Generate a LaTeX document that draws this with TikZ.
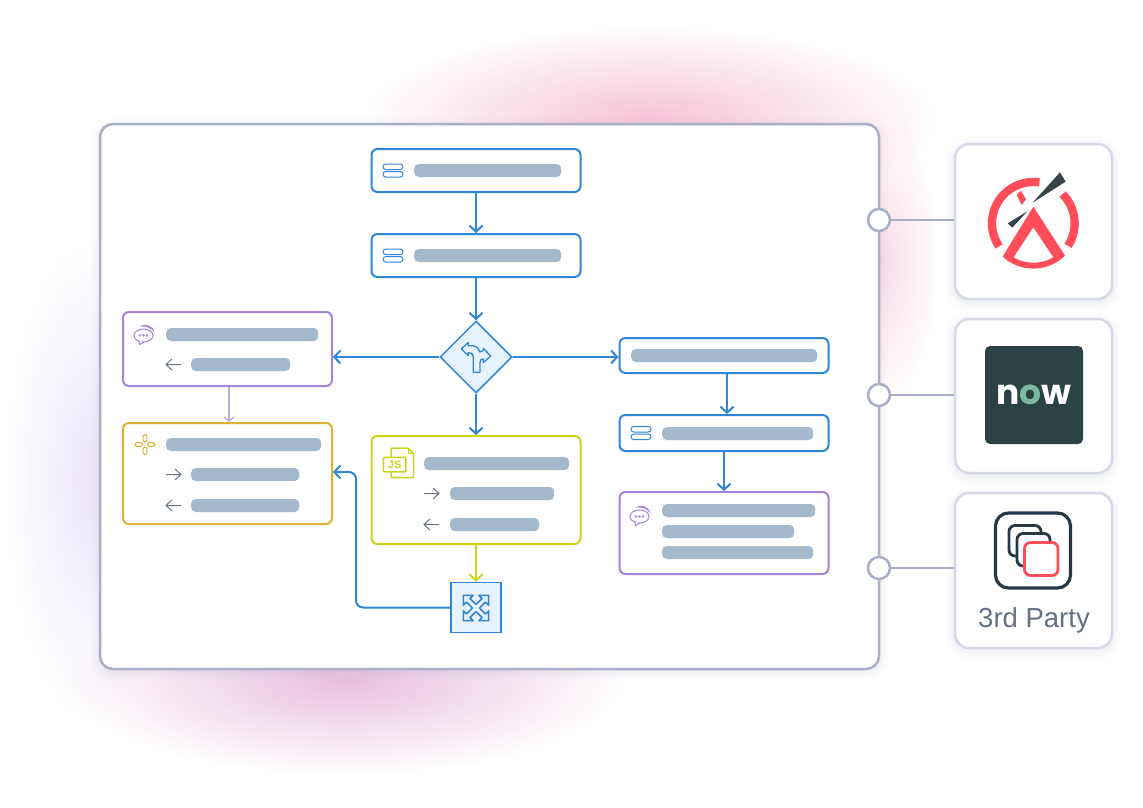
\documentclass[tikz,border=0pt]{standalone}
\usepackage{fontspec}
\setmainfont{Liberation Sans}
\newfontfamily\nowfont{Poppins}
\usetikzlibrary{shapes.geometric,arrows.meta,fadings}
\definecolor{flowblue}{HTML}{2F86D6}
\definecolor{iceblue}{HTML}{E6F2FD}
\definecolor{chatpurple}{HTML}{A583D8}
\definecolor{palepurple}{HTML}{C2A8E4}
\definecolor{ruleyellow}{HTML}{DDB134}
\definecolor{jslime}{HTML}{CBD515}
\definecolor{barblue}{HTML}{A5B9CD}
\definecolor{arrowgray}{HTML}{6B7688}
\definecolor{panelrim}{HTML}{A9AFC6}
\definecolor{cardrim}{HTML}{D5D9E5}
\definecolor{logored}{HTML}{FF4D5A}
\definecolor{logodark}{HTML}{37434A}
\definecolor{nowdark}{HTML}{2B4245}
\definecolor{nowgreen}{HTML}{7DB8A0}
\definecolor{stackdark}{HTML}{263746}
\definecolor{partygray}{HTML}{667085}
\definecolor{blobpink}{HTML}{F09ABB}
\definecolor{blobmauve}{HTML}{DE9CCB}
\definecolor{bloblilac}{HTML}{CDBDEE}
\tikzfading[name=softblob, inner color=transparent!0, outer color=transparent!100]
\tikzstyle{softcard} = [preaction={draw=panelrim, draw opacity=.04, line width=18pt, transform canvas={yshift=-3pt}},
    preaction={draw=panelrim, draw opacity=.05, line width=11pt, transform canvas={yshift=-3pt}},
    preaction={draw=panelrim, draw opacity=.07, line width=6pt, transform canvas={yshift=-2pt}}]
\tikzstyle{panel} = [rectangle, draw=panelrim, line width=2.5pt, fill=white, rounded corners=13pt, softcard]
\tikzstyle{card} = [rectangle, draw=cardrim, line width=2.5pt, fill=white, rounded corners=14pt, minimum width=157pt, softcard]
\tikzstyle{port} = [circle, draw=panelrim, line width=2.5pt, fill=white, minimum size=22pt, inner sep=0pt]
\tikzstyle{box} = [rectangle, line width=2pt, fill=white, rounded corners=6pt, minimum width=209pt, inner sep=0pt]
\tikzstyle{bar} = [rectangle, fill=barblue, rounded corners=4.5pt, minimum height=13pt, inner sep=0pt, anchor=west]
\tikzstyle{line} = [draw=flowblue, line width=2pt, -{Straight Barb[length=6pt,width=13pt]}]
\tikzstyle{link} = [draw=panelrim, line width=2.5pt]
\tikzstyle{glyph} = [draw=arrowgray, line width=1pt]
% bar of a box: x, y of its middle, width, name
\newcommand{\txtbar}[4]{\node [bar, minimum width=#3pt] (#4) at (#1,#2) {};}
\newcommand{\dbicon}[2]{\begin{scope}[shift={(#1,#2)}, draw=flowblue, line width=1pt]
    \draw [rounded corners=2.7pt] (-10,-6.5) rectangle (10,-1);
    \draw [rounded corners=2.7pt] (-10,1) rectangle (10,6.5);
  \end{scope}}
\newcommand{\chaticon}[2]{\begin{scope}[shift={(#1,#2)}, draw=chatpurple, line width=1pt]
    \fill [chatpurple] (-5,-7.5) .. controls (2,-11) and (9,-9) .. (10.5,-1) .. controls (8,-6) and (3,-8) .. (-5,-7.5);
    \draw [fill=white] (-.5,1.5) ellipse (9.5 and 6.5);
    \draw [fill=white] (-5,7) -- (-4.5,10.5) -- (0,8);
    \foreach \dx in {-4,-.5,3} \fill [chatpurple] (\dx,1.5) circle (1.4);
  \end{scope}}
\newcommand{\outglyph}[2]{\draw [glyph] (#1,#2) -- ++(15,0) ++(-6,-5.5) -- ++(6,5.5) -- ++(-6,5.5);}
\newcommand{\inglyph}[2]{\draw [glyph] (#1+15,#2) -- ++(-15,0) ++(6,-5.5) -- ++(-6,5.5) -- ++(6,5.5);}

\begin{document}
\begin{tikzpicture}[x=1pt, y=-1pt]
  \useasboundingbox (0,0) rectangle (1143,808);
  % Blurred backdrop
  \fill [blobpink, path fading=softblob, opacity=.6] (650,120) ellipse (290 and 95);
  \fill [blobpink, path fading=softblob, opacity=.35] (880,260) ellipse (60 and 150);
  \fill [bloblilac, path fading=softblob, opacity=.38] (90,480) ellipse (85 and 240);
  \fill [blobmauve, path fading=softblob, opacity=.65] (345,680) ellipse (280 and 95);

  % Place nodes
  \node [panel, minimum width=779pt, minimum height=545pt] (frame) at (489.5,396.5) {};
  \node [card, minimum height=155pt] (card1) at (1033.5,221.5) {};
  \node [card, minimum height=154pt] (card2) at (1033.5,396) {};
  \node [card, minimum height=155pt] (card3) at (1033.5,570.5) {};
  \node [port] (port1) at (879,220) {};
  \node [port] (port2) at (879,395) {};
  \node [port] (port3) at (879,568) {};

  \node [box, draw=flowblue, minimum height=43pt] (start) at (476,170.5) {};
  \node [box, draw=flowblue, minimum height=43pt, below of=start, node distance=85pt] (query) {};
  \node [diamond, draw=flowblue, line width=1.5pt, fill=iceblue, minimum size=72pt, inner sep=0pt, below of=query, node distance=101.5pt] (split) {};
  \node [box, draw=jslime, minimum height=108pt] (script) at (476,490) {};
  \node [rectangle, draw=flowblue, line width=1.5pt, fill=iceblue, minimum size=50pt, inner sep=0pt] (merge) at (476,607.5) {};
  \node [box, draw=chatpurple, minimum height=74pt] (ask) at (227.5,349) {};
  \node [box, draw=ruleyellow, minimum height=101pt] (rule) at (227.5,473.5) {};
  \node [box, draw=flowblue, minimum height=35pt] (task) at (724,355.5) {};
  \node [box, draw=flowblue, minimum height=36pt] (lookup) at (724,433) {};
  \node [box, draw=chatpurple, minimum height=82pt] (reply) at (724,533) {};

  % Bars
  \txtbar{414}{170.5}{147}{startbar}
  \txtbar{414}{255.5}{147}{querybar}
  \txtbar{166}{334.5}{152}{askbar}
  \txtbar{191}{364.5}{99}{askbarb}
  \txtbar{166}{444.5}{155}{rulebar}
  \txtbar{191}{474.5}{108}{rulebarb}
  \txtbar{191}{505.5}{108}{rulebarc}
  \txtbar{424}{463.5}{145}{scriptbar}
  \txtbar{450}{493.5}{104}{scriptbarb}
  \txtbar{450}{524.5}{89}{scriptbarc}
  \txtbar{631}{355.5}{186}{taskbar}
  \txtbar{662}{433.5}{151}{lookupbar}
  \txtbar{662}{510.5}{153}{replybar}
  \txtbar{662}{531.5}{132}{replybarb}
  \txtbar{662}{552.5}{151}{replybarc}

  % Small icons
  \dbicon{393}{170.5}
  \dbicon{393}{255.5}
  \dbicon{641}{433}
  \chaticon{144}{334}
  \chaticon{640}{515}
  \inglyph{166}{364.5}
  \outglyph{166}{474.5}
  \inglyph{166}{505.5}
  \outglyph{424}{493.5}
  \inglyph{424}{524.5}
  \begin{scope}[shift={(145,444.5)}, draw=ruleyellow, line width=1pt]
    \draw [rounded corners=1.5pt] (-1.8,-10) rectangle (1.8,-2.5);
    \draw [rounded corners=1.5pt] (-1.8,2.5) rectangle (1.8,10);
    \draw [rounded corners=1.5pt] (-10,-1.8) rectangle (-2.5,1.8);
    \draw [rounded corners=1.5pt] (2.5,-1.8) rectangle (10,1.8);
  \end{scope}
  \draw [jslime, line width=1.5pt, fill=white, rounded corners=1pt] (391,448) -- (408,448) -- (413.5,453.5) -- (413.5,477.5) -- (391,477.5) -- cycle;
  \draw [jslime, line width=1pt] (408,448) -- (408,453.5) -- (413.5,453.5);
  \node [rectangle, draw=jslime, line width=1.5pt, fill=white, rounded corners=1pt, minimum width=22.5pt, minimum height=14.5pt, inner sep=0pt, text=jslime, font=\bfseries\fontsize{11}{11}\selectfont] (jsmark) at (394.7,464.5) {JS};
  % turn sign in the split
  \begin{scope}[shift={(360,140)}, x=.3333pt, y=-.3333pt]
    \draw [flowblue, line width=1.3pt, line join=round] (304,627) -- (325,607) -- (325,617) .. controls (345,615) and (356,622) .. (359,636) -- (370,632) -- (370,625) -- (392,648) -- (370,668) -- (370,657) .. controls (364,656) and (360,660) .. (360,668) -- (360,697) -- (340,697) -- (340,650) .. controls (340,642) and (334,637) .. (325,638) -- (325,647) -- cycle;
  \end{scope}
  % arrows of the merge
  \foreach \turn in {45,135,225,315}
    \draw [flowblue, line width=1.5pt, line join=round, shift={(476,608)}, rotate=\turn] (-2.5,-2.5) -- (-2.5,-11) -- (-7,-11) -- (0,-18) -- (7,-11) -- (2.5,-11) -- (2.5,-2.5);

  % Draw edges
  \path [line] (start) -- (query);
  \path [line] (query) -- (split);
  \path [line] (split) -- (script);
  \path [line] (split) -- (split -| ask.east);
  \path [line] (split) -- (split -| task.west);
  \path [line, draw=jslime] (script) -- (merge);
  \path [line, draw=palepurple, line width=1.5pt, -{Straight Barb[length=4pt,width=10pt]}] ([xshift=1.5pt]ask.south) -- ([xshift=1.5pt]rule.north);
  \path [line] ([xshift=3pt]task.south) -- ([xshift=3pt]lookup.north);
  \path [line] (lookup) -- (reply);
  \path [line, rounded corners=7pt] (merge) -| (356,472) -- (rule.east |- 356,472);
  \path [link] (port1) -- (port1 -| card1.west);
  \path [link] (port2) -- (port2 -| card2.west);
  \path [link] (port3) -- (port3 -| card3.west);

  % first logo
  \begin{scope}[shift={(950,140)}, x=.3333pt, y=-.3333pt]
    \draw [logored, line width=8.3pt] (250,250) ++(-81.5:124) arc (-81.5:-214:124);
    \draw [logored, line width=8.3pt] (250,250) ++(-45:124) arc (-45:33:124);
    \fill [logored, even odd rule] (250,200) -- (345,347) arc (45.6:132.6:136) -- cycle
      (250,262) -- (310,352) arc (59.5:120.5:118) -- cycle;
    \fill [logored] (213,152) -- (228,178) -- (215,195) -- (200,165) -- cycle;
    \fill [logodark] (330,97) -- (347,125) -- (248,188) -- cycle;
    \fill [logodark] (232,214) -- (187,263) -- (173,250) -- cycle;
  \end{scope}
  % second logo
  \node [rectangle, fill=nowdark, rounded corners=5pt, minimum size=98pt, inner sep=0pt, text=white, font=\nowfont\bfseries\fontsize{34.5}{34.5}\selectfont] (nowmark) at (1034,395) {n{\color{nowgreen}o}w};
  % third logo
  \node [rectangle, draw=stackdark, line width=3.2pt, rounded corners=13pt, minimum size=75pt, inner sep=0pt] (stack) at (1033,550.5) {};
  \draw [stackdark, line width=2.8pt, rounded corners=6pt, fill=white] (1009,525.5) rectangle (1041,556);
  \draw [stackdark, line width=2.8pt, rounded corners=6pt, fill=white] (1017,533.5) rectangle (1050,566);
  \draw [logored, line width=2.8pt, rounded corners=6pt, fill=white] (1024.5,542.5) rectangle (1058,575.5);
  \node [text=partygray, font=\fontsize{27.5}{27.5}\selectfont, inner sep=0pt] (party) at (1034,620) {3rd Party};
\end{tikzpicture}
\end{document}
